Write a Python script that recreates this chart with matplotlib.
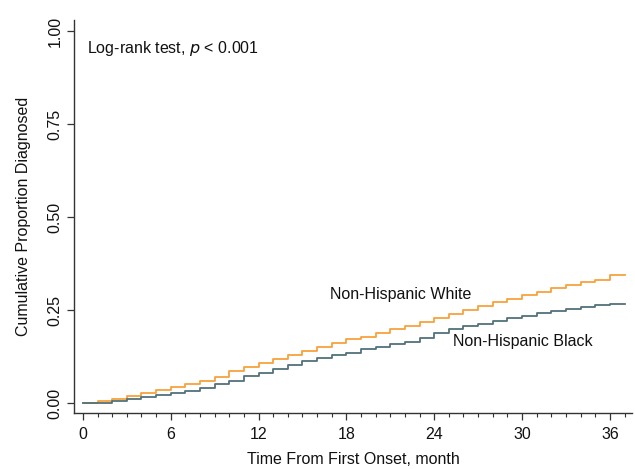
import matplotlib
matplotlib.use("Agg")
import matplotlib.pyplot as plt
from matplotlib.ticker import MultipleLocator

plt.rcParams['font.family'] = ['Liberation Sans', 'DejaVu Sans']

months = list(range(0, 37))
white = [0, 0.005, 0.012, 0.020, 0.028, 0.035,
         0.044, 0.052, 0.060, 0.071, 0.085, 0.097,
         0.108, 0.117, 0.128, 0.141, 0.151, 0.160,
         0.171, 0.178, 0.187, 0.198, 0.207, 0.218,
         0.228, 0.238, 0.249, 0.260, 0.271, 0.280,
         0.290, 0.298, 0.308, 0.317, 0.324, 0.332,
         0.344]
black = [0, 0, 0.004, 0.010, 0.016, 0.021,
         0.027, 0.032, 0.041, 0.050, 0.059, 0.072,
         0.081, 0.090, 0.102, 0.113, 0.120, 0.129,
         0.135, 0.144, 0.151, 0.158, 0.165, 0.176,
         0.189, 0.199, 0.208, 0.213, 0.221, 0.228,
         0.234, 0.241, 0.247, 0.254, 0.259, 0.263,
         0.265]
end_month = 37
x_ticks = [0, 6, 12, 18, 24, 30, 36]
y_ticks = [0.0, 0.25, 0.50, 0.75, 1.00]
y_tick_labels = ["0.00", "0.25", "0.50", "0.75", "1.00"]

fig = plt.figure(figsize=(6.35, 4.69), dpi=100)
ax = fig.add_axes([0.1165, 0.1194, 0.8785, 0.838])

xs = months + [end_month]
ax.step(xs, white + [white[-1]], where='post', color='#F7A23B', lw=1.3)
ax.step(xs, black + [black[-1]], where='post', color='#52717B', lw=1.3)

ax.set_xlim(-0.61, 37.5)
ax.set_ylim(-0.027, 1.03)

for s in ['top', 'right']:
    ax.spines[s].set_visible(False)
for s in ['left', 'bottom']:
    ax.spines[s].set_color('#333333')
    ax.spines[s].set_linewidth(1.0)

ax.set_xticks(x_ticks)
ax.xaxis.set_minor_locator(MultipleLocator(1))
ax.set_yticks(y_ticks)
ax.set_yticklabels(y_tick_labels, rotation=90, va='center')
ax.tick_params(axis='both', which='major', length=5, width=0.9, color='#333333',
               labelsize=11.5, labelcolor='#111111', pad=5)
ax.tick_params(axis='y', which='major', pad=3)
ax.tick_params(axis='x', which='minor', length=3, width=0.8, color='#333333')

ax.set_xlabel('Time From First Onset, month', fontsize=11.5, labelpad=7, color='#111111')
ax.set_ylabel('Cumulative Proportion Diagnosed', fontsize=11.5, labelpad=12, color='#111111')

ax.text(0.27, 0.954, 'Log-rank test, $\\it{p}$ < 0.001', fontsize=11.5, va='center', ha='left',
        color='#111111')
ax.text(16.9, 0.293, 'Non-Hispanic White', fontsize=11.5, va='center', ha='left', color='#111111')
ax.text(25.3, 0.164, 'Non-Hispanic Black', fontsize=11.5, va='center', ha='left', color='#111111')

fig.savefig('out.png', dpi=100)
